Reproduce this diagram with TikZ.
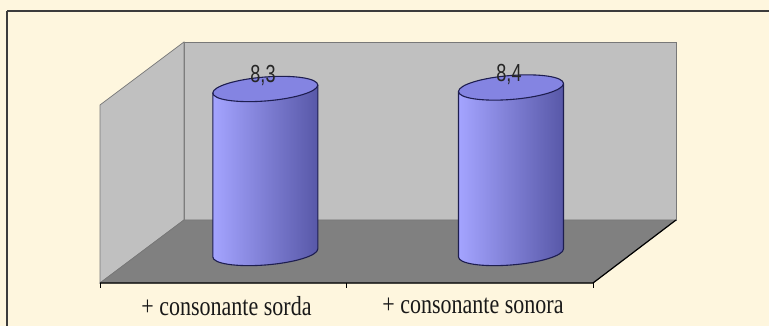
\documentclass[tikz,border=0pt]{standalone}
\usepackage{fontspec}
\setmainfont{Liberation Serif}
\newfontfamily\valfont{Liberation Sans}
\definecolor{bgc}{RGB}{254,246,222}
\definecolor{wallc}{RGB}{192,192,192}
\definecolor{floorc}{RGB}{128,128,128}
\definecolor{wallline}{RGB}{120,120,120}
\definecolor{cylL}{RGB}{164,164,255}
\definecolor{cylM}{RGB}{128,128,222}
\definecolor{cylR}{RGB}{88,88,168}
\definecolor{cylT}{RGB}{132,132,226}
\definecolor{cylline}{RGB}{30,30,80}
\definecolor{framec}{RGB}{60,60,60}
\newcommand\drawcyl[3]{%
  \begin{scope}[cm={1,0.076,0,1,(#1,0)}]
    \shade[left color=cylL, middle color=cylM, right color=cylR]
      (-52.5,#2) arc[start angle=180,end angle=360,x radius=52.5,y radius=12]
      -- (52.5,#3) arc[start angle=0,end angle=-180,x radius=52.5,y radius=12] -- cycle;
    \draw[cyledge] (-52.5,#3) -- (-52.5,#2)
      arc[start angle=180,end angle=360,x radius=52.5,y radius=12] -- (52.5,#3);
    \filldraw[fill=cylT, cyledge] (0,#3) ellipse[x radius=52.5, y radius=12];
  \end{scope}}
\begin{document}
\begin{tikzpicture}[x=1pt,y=1pt,
  wall/.style={fill=wallc, draw=wallline, line width=0.7pt},
  floorstyle/.style={fill=floorc, draw=wallline, line width=0.7pt},
  axisline/.style={draw=black, line width=1.2pt},
  tickline/.style={draw=black, line width=1pt},
  cyledge/.style={draw=cylline, line width=1.1pt},
  cat/.style={font=\fontsize{22}{24}\selectfont, yscale=1.25, inner sep=0pt, text=black!90},
  val/.style={font=\valfont\fontsize{19}{21}\selectfont, xscale=0.95, yscale=1.3, inner sep=0pt, text=black!85}]
\useasboundingbox (0,0) rectangle (769,326);
\clip (0,0) rectangle (769,326);
\fill[bgc] (0,0) rectangle (769,326);
\draw[framec, line width=1.5pt] (7,315) -- (900,315) (7,315) -- (7,-100);
% coordinates
\coordinate (lwt) at (100,221);
\coordinate (bwtl) at (184,284);
\coordinate (bwtr) at (676,284);
\coordinate (bwbl) at (184,106);
\coordinate (bwbr) at (676,106);
\coordinate (fl) at (100,43);
\coordinate (fr) at (593,43);
\coordinate (fm) at (346.5,43);
% walls
\path[wall] (bwbl) rectangle (bwtr);
\path[wall] (fl) -- (lwt) -- (bwtl) -- (bwbl) -- cycle;
\path[floorstyle] (fl) -- (bwbl) -- (bwbr) -- (fr) -- cycle;
\draw[axisline] (fl) -- (fr) -- (bwbr);
\draw[tickline] (fl) -- ++(0,-5) (fm) -- ++(0,-5) (fr) -- ++(0,-5);
% cylinders
\drawcyl{265.3}{73}{237}
\drawcyl{511}{73}{238.5}
% labels
\node[val] (v1) at (263,251) {8,3};
\node[val] (v2) at (509,251.5) {8,4};
\node[cat] (c1) at (226.5,20) {+ consonante sorda};
\node[cat] (c2) at (473,20) {+ consonante sonora};
\end{tikzpicture}
\end{document}
